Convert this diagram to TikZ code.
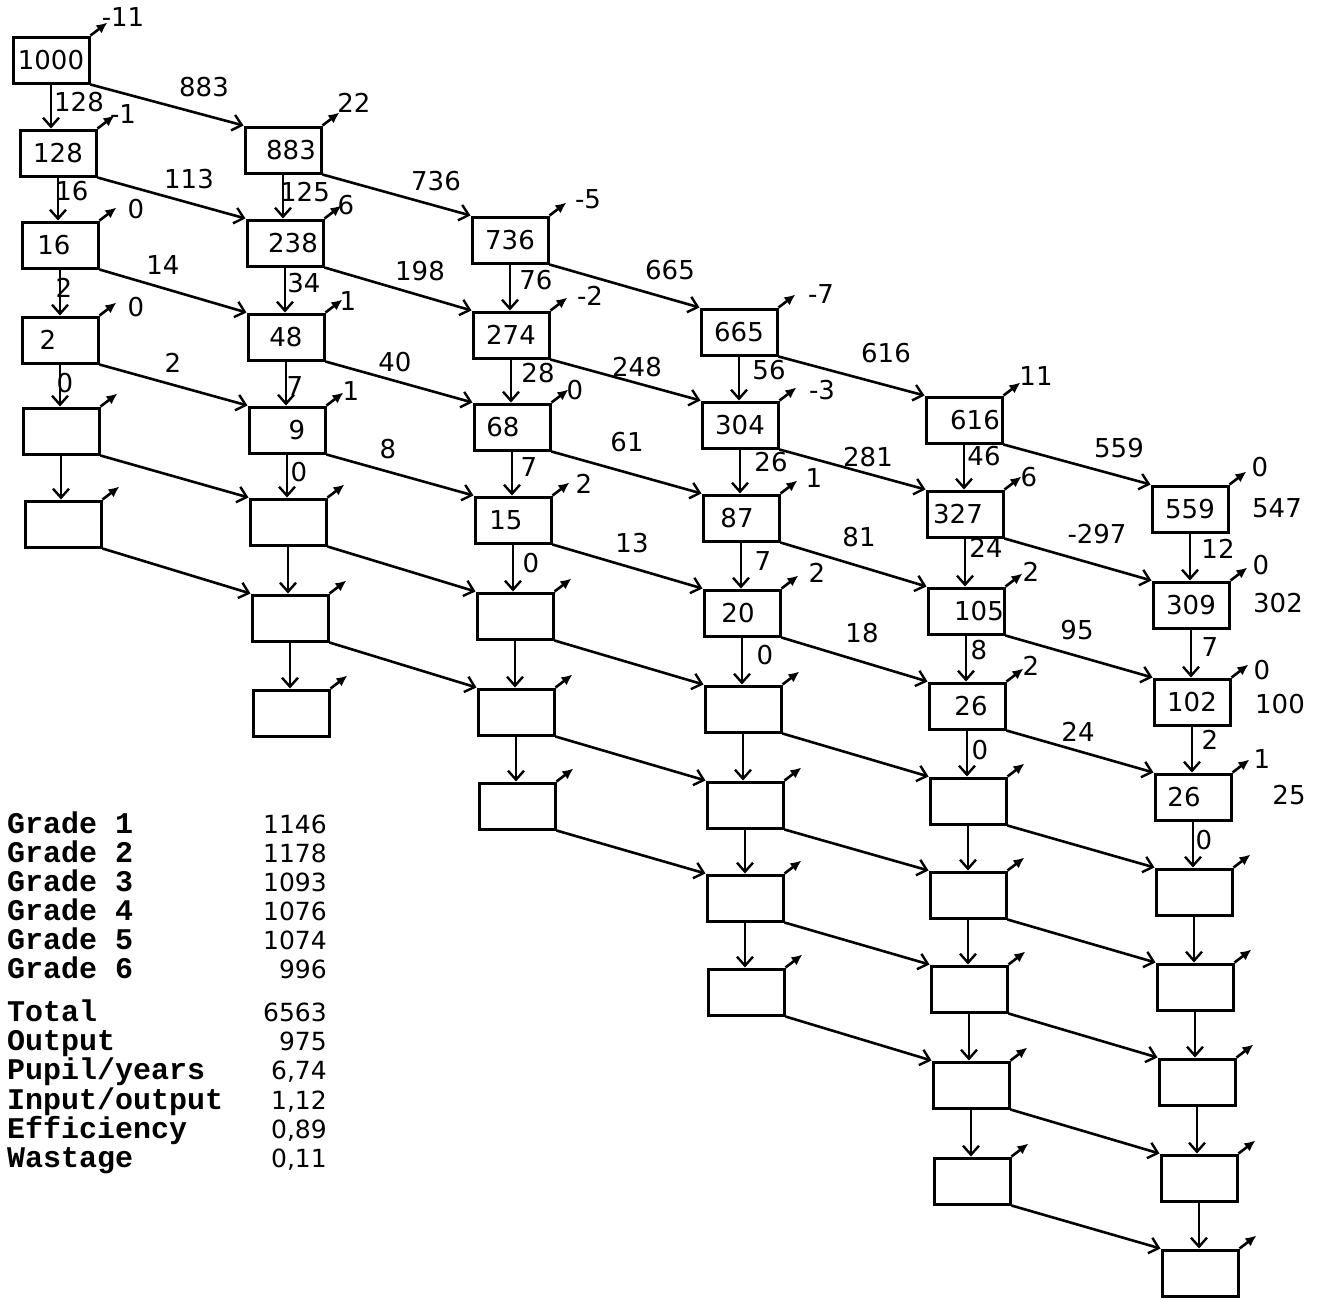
\documentclass[tikz,border=0pt]{standalone}
\usepackage{fontspec}
\setmainfont{DejaVu Sans}
\newfontfamily\twfont{Liberation Mono}
\usetikzlibrary{arrows.meta}
\begin{document}
\begin{tikzpicture}[x=1pt,y=-1pt,
  box/.style={draw,line width=3pt,minimum width=76pt,minimum height=46pt,inner sep=0pt,font=\fontsize{26}{26}\selectfont},
  num/.style={inner sep=0pt,font=\fontsize{26}{26}\selectfont},
  conn/.style={line width=2.6pt,-{Straight Barb[length=9pt,width=16pt,line width=2.4pt]}},
  dropa/.style={line width=2.6pt,-{Latex[length=11pt,width=10pt]}},
  tab/.style={inner sep=0pt,anchor=base west,font=\twfont\bfseries\fontsize{30}{30}\selectfont},
  tabn/.style={inner sep=0pt,anchor=base east,font=\fontsize{25}{25}\selectfont}]
\useasboundingbox (0,0) rectangle (1323,1299);

% boxes
\foreach \n/\x/\y/\t in {
  A1/51/60/1000, A2/58/153/128, A3/60/245/{16\hspace*{12pt}}, A4/60/340/{2\hspace*{24pt}}, A5/61/431/{}, A6/63/524/{},
  B1/283/150/{\hspace*{16pt}883}, B2/285/243/{\hspace*{16pt}238}, B3/286/337/48, B4/287/430/{\hspace*{20pt}9}, B5/288/522/{}, B6/290/618/{}, B7/291/713/{},
  C1/510/240/736, C2/511/335/274, C3/512/427/{68\hspace*{18pt}}, C4/513/520/{15\hspace*{14pt}}, C5/515/616/{}, C6/516/712/{}, C7/517/806/{},
  D1/739/332/665, D2/740/425/304, D3/741/518/{87\hspace*{8pt}}, D4/742/613/{20\hspace*{8pt}}, D5/743/709/{}, D6/745/805/{}, D7/745/898/{}, D8/746/992/{},
  E1/964/420/{\hspace*{22pt}616}, E2/965/514/{327\hspace*{14pt}}, E3/966/611/{\hspace*{26pt}105}, E4/967/706/{\hspace*{8pt}26}, E5/968/801/{}, E6/968/895/{}, E7/969/989/{}, E8/971/1085/{}, E9/972/1181/{},
  F1/1190/509/559, F2/1191/605/309, F3/1192/702/102, F4/1193/797/{26\hspace*{18pt}}, F5/1194/892/{}, F6/1195/987/{}, F7/1197/1082/{}, F8/1199/1178/{}, F9/1200/1273/{}}
  \node[box] (\n) at (\x,\y) {\t};

% dropout arrows
\foreach \n in {A1,A2,A3,A4,A5,A6,B1,B2,B3,B4,B5,B6,B7,C1,C2,C3,C4,C5,C6,C7,D1,D2,D3,D4,D5,D6,D7,D8,E1,E2,E3,E4,E5,E6,E7,E8,E9,F1,F2,F3,F4,F5,F6,F7,F8,F9}{
  \path (\n.north east) ++(17,-13) coordinate (d\n);
  \draw[dropa] (\n.north east) -- (d\n);
}

% repeaters (vertical)
\foreach \a/\b in {A1/A2,A2/A3,A3/A4,A4/A5,A5/A6,
  B1/B2,B2/B3,B3/B4,B4/B5,B5/B6,B6/B7,
  C1/C2,C2/C3,C3/C4,C4/C5,C5/C6,C6/C7,
  D1/D2,D2/D3,D3/D4,D4/D5,D5/D6,D6/D7,D7/D8,
  E1/E2,E2/E3,E3/E4,E4/E5,E5/E6,E6/E7,E7/E8,E8/E9,
  F1/F2,F2/F3,F3/F4,F4/F5,F5/F6,F6/F7,F7/F8,F8/F9}
  \draw[conn] (\a.south) -- (\a.south |- \b.north);

% promotees (diagonal)
\foreach \a/\b in {A1/B1,A2/B2,A3/B3,A4/B4,A5/B5,A6/B6,
  B1/C1,B2/C2,B3/C3,B4/C4,B5/C5,B6/C6,
  C1/D1,C2/D2,C3/D3,C4/D4,C5/D5,C6/D6,C7/D7,
  D1/E1,D2/E2,D3/E3,D4/E4,D5/E5,D6/E6,D7/E7,D8/E8,
  E1/F1,E2/F2,E3/F3,E4/F4,E5/F5,E6/F6,E7/F7,E8/F8,E9/F9}
  \draw[conn] (\a.south east) -- (\b.north west);

% dropout labels and graduates
\foreach \n/\x/\y/\t in {
  ldA1/123/17/-11, ldA2/123/114/-1, ldA3/136/209/0, ldA4/136/307/0,
  ldB1/354/103/22, ldB2/346/205/6, ldB3/348/301/1, ldB4/351/391/1,
  ldC1/588/199/-5, ldC2/590/296/-2, ldC3/575/390/0, ldC4/584/484/2,
  ldD1/821/294/-7, ldD2/822/390/-3, ldD3/814/478/1, ldD4/817/573/2,
  ldE1/1036/376/11, ldE2/1029/477/6, ldE3/1031/572/2, ldE4/1031/666/2,
  ldF1/1260/467/0, ldF2/1261/565/0, ldF3/1262/670/0, ldF4/1262/759/1,
  lg1/1277/508/547, lg2/1278/603/302, lg3/1280/704/100, lg4/1289/795/25}
  \node[num] (\n) at (\x,\y) {\t};

% repeater labels
\foreach \n/\x/\y/\t in {
  lvA1/79/102/128, lvA2/72/191/16, lvA3/64/288/2, lvA4/65/383/0,
  lvB1/305/192/125, lvB2/304/283/34, lvB3/295/386/7, lvB4/299/472/0,
  lvC1/536/280/76, lvC2/538/373/28, lvC3/529/467/7, lvC4/531/563/0,
  lvD1/769/370/56, lvD2/771/462/26, lvD3/763/561/7, lvD4/765/655/0,
  lvE1/984/456/46, lvE2/986/548/24, lvE3/979/650/8, lvE4/980/750/0,
  lvF1/1218/549/12, lvF2/1210/647/7, lvF3/1210/740/2, lvF4/1204/840/0}
  \node[num] (\n) at (\x,\y) {\t};

% promotee labels
\foreach \n/\x/\y/\t in {
  lAB1/204/87/883, lAB2/189/179/113, lAB3/163/265/14, lAB4/173/363/2,
  lBC1/436/181/736, lBC2/420/271/198, lBC3/395/362/40, lBC4/388/449/8,
  lCD1/670/270/665, lCD2/637/367/248, lCD3/627/442/61, lCD4/632/543/13,
  lDE1/886/353/616, lDE2/868/457/281, lDE3/859/537/81, lDE4/862/633/18,
  lEF1/1119/448/559, lEF2/1097/534/-297, lEF3/1077/630/95, lEF4/1078/732/24}
  \node[num] (\n) at (\x,\y) {\t};

% table
\foreach \n/\y/\t/\v in {
  1/833/{Grade 1}/1146, 2/862/{Grade 2}/1178, 3/891/{Grade 3}/1093, 4/920/{Grade 4}/1076, 5/949/{Grade 5}/1074, 6/978/{Grade 6}/996,
  7/1021/{Total}/6563, 8/1050/{Output}/975, 9/1079/{Pupil/years}/{6,74}, 10/1109/{Input/output}/{1,12}, 11/1138/{Efficiency}/{0,89}, 12/1167/{Wastage}/{0,11}}
  {\node[tab] (t\n) at (7,\y) {\t};
   \node[tabn] (v\n) at (327,\y) {\v};}
\end{tikzpicture}
\end{document}
